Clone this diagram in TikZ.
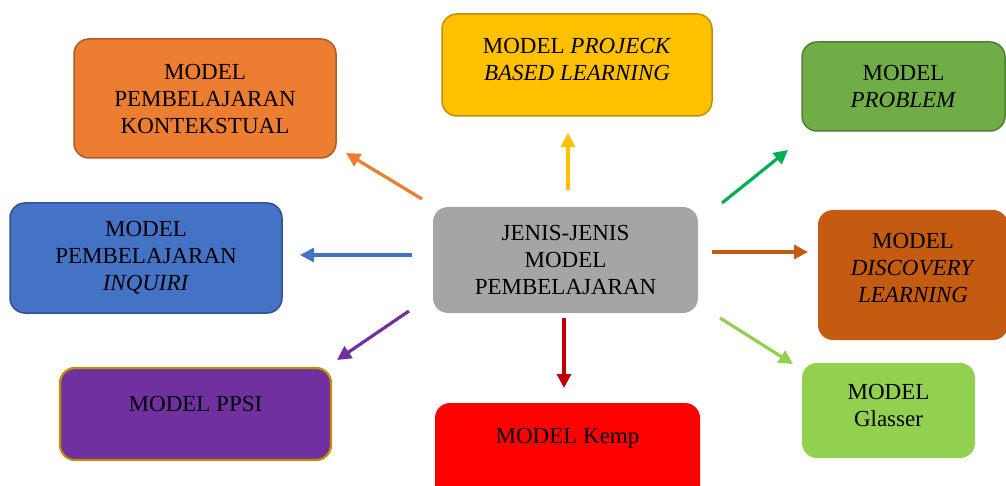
\documentclass[tikz,border=0pt]{standalone}
\usepackage{fontspec}
\setmainfont{Liberation Serif}
\usetikzlibrary{arrows.meta}

\tikzset{
  modelbox/.style={rounded corners=15pt, align=center, text=black, inner sep=0pt,
    font=\fontsize{23}{27}\selectfont, line width=1.5pt},
  panah/.style={line width=3.2pt, -{Triangle[length=14pt,width=14pt]}}
}

\begin{document}
\begin{tikzpicture}[x=1pt,y=-1pt]
  % Define colors for the boxes and arrows
  \definecolor{abu}{RGB}{165,165,165}
  \definecolor{oranye}{RGB}{237,125,49}
  \definecolor{oranyetua}{RGB}{174,90,33}
  \definecolor{kuning}{RGB}{255,192,0}
  \definecolor{emas}{RGB}{191,144,0}
  \definecolor{hijau}{RGB}{112,173,71}
  \definecolor{hijautua}{RGB}{80,126,50}
  \definecolor{hijaupanah}{RGB}{0,176,80}
  \definecolor{biru}{RGB}{68,114,196}
  \definecolor{birutua}{RGB}{47,82,143}
  \definecolor{coklat}{RGB}{197,90,17}
  \definecolor{ungu}{RGB}{112,48,160}
  \definecolor{merah}{RGB}{255,0,0}
  \definecolor{merahtua}{RGB}{192,0,0}
  \definecolor{hijaumuda}{RGB}{146,208,80}

  \useasboundingbox (0,0) rectangle (1006,486);
  \clip (0,0) rectangle (1006,486);

  % Draw the boxes
  \node[modelbox, fill=abu, minimum width=265pt, minimum height=106pt] (jenis) at (565.5,260) {JENIS-JENIS\\MODEL\\PEMBELAJARAN};
  \node[modelbox, fill=oranye, draw=oranyetua, minimum width=262pt, minimum height=119pt] (kontekstual) at (205,98.5) {MODEL\\PEMBELAJARAN\\KONTEKSTUAL};
  \node[modelbox, fill=kuning, draw=emas, minimum width=270pt, minimum height=102pt, text depth=12pt] (projeck) at (577,65) {MODEL \textit{PROJECK}\\\textit{BASED LEARNING}};
  \node[modelbox, fill=hijau, draw=hijautua, minimum width=203pt, minimum height=89pt] (problem) at (903.5,86.5) {MODEL\\\textit{PROBLEM}};
  \node[modelbox, fill=biru, draw=birutua, minimum width=272pt, minimum height=110pt] (inquiri) at (146,258) {MODEL\\PEMBELAJARAN\\\textit{INQUIRI}};
  \node[modelbox, fill=coklat, minimum width=190pt, minimum height=130pt, text depth=14pt] (discovery) at (913,275) {MODEL\\\textit{DISCOVERY}\\\textit{LEARNING}};
  \node[modelbox, fill=ungu, draw=emas, line width=2.2pt, minimum width=271pt, minimum height=92pt, text depth=20pt] (ppsi) at (195.5,414) {MODEL PPSI};
  \node[modelbox, fill=merah, minimum width=265pt, minimum height=100pt, text depth=34pt] (kemp) at (567.5,453) {MODEL Kemp};
  \node[modelbox, fill=hijaumuda, minimum width=173pt, minimum height=95pt, text depth=11pt] (glasser) at (888.5,410.5) {MODEL\\Glasser};

  % Arrow end points
  \coordinate (kontekstual-a) at (422,199);
  \coordinate (kontekstual-b) at (346,153);
  \coordinate (projeck-a) at (568,190);
  \coordinate (projeck-b) at (568,133);
  \coordinate (problem-a) at (722,203);
  \coordinate (problem-b) at (788,150);
  \coordinate (inquiri-a) at (412,255);
  \coordinate (inquiri-b) at (300,255);
  \coordinate (discovery-a) at (712,252);
  \coordinate (discovery-b) at (808,252);
  \coordinate (ppsi-a) at (409,311);
  \coordinate (ppsi-b) at (337,360);
  \coordinate (kemp-a) at (564,318);
  \coordinate (kemp-b) at (564,388);
  \coordinate (glasser-a) at (720,318);
  \coordinate (glasser-b) at (793,364);

  % Draw the arrows
  \draw[panah, oranye] (kontekstual-a) -- (kontekstual-b);
  \draw[panah, kuning] (projeck-a) -- (projeck-b);
  \draw[panah, hijaupanah] (problem-a) -- (problem-b);
  \draw[panah, biru] (inquiri-a) -- (inquiri-b);
  \draw[panah, coklat] (discovery-a) -- (discovery-b);
  \draw[panah, ungu] (ppsi-a) -- (ppsi-b);
  \draw[panah, merahtua] (kemp-a) -- (kemp-b);
  \draw[panah, hijaumuda] (glasser-a) -- (glasser-b);
\end{tikzpicture}
\end{document}
